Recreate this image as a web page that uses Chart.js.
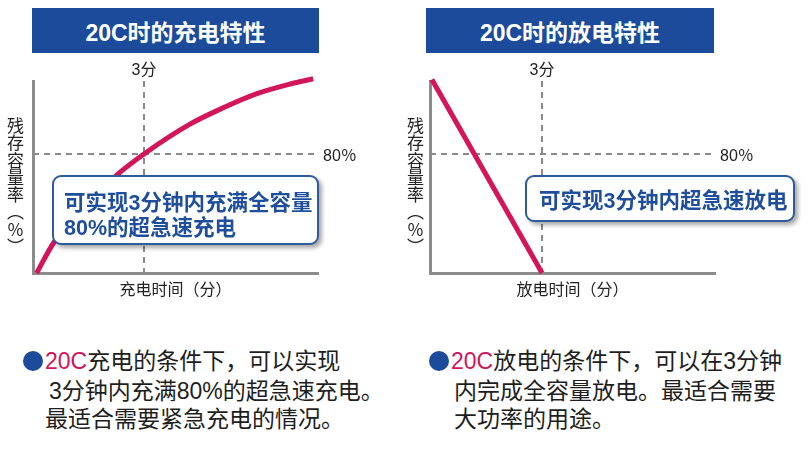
<!DOCTYPE html>
<html>
<head>
<meta charset="utf-8">
<script src="https://cdn.jsdelivr.net/npm/chart.js@4.4.1/dist/chart.umd.min.js"></script>
<style>
  html, body { margin:0; padding:0; background:#fff; }
  body { width:811px; height:450px; position:relative; overflow:hidden;
         font-family:'Liberation Sans','Noto Sans CJK SC',sans-serif; }
  .bar { position:absolute; top:8px; height:45px; background:#1c4b9b; color:#fff;
         font-weight:bold; font-size:23px; line-height:45px; text-align:center;
         padding-top:3px; box-sizing:border-box; white-space:nowrap; }
  .ytitle { position:absolute; top:117px; writing-mode:vertical-rl; text-orientation:upright;
            font-family:'Noto Sans CJK SC',sans-serif; font-size:17px; line-height:17px;
            letter-spacing:0.3px; color:#222; }
  .callout { position:absolute; background:#fff; border:2px solid #2e5b9d; border-radius:9px;
             box-shadow:3px 3px 4px rgba(0,0,0,0.35); color:#1f4f9c; font-weight:bold;
             font-size:21.5px; line-height:25px; box-sizing:border-box; white-space:nowrap; }
  .line { position:absolute; font-size:23px; line-height:29px; color:#1e1e1e; white-space:nowrap; }
  .red { color:#d0145a; }
  .dot { display:inline-block; width:20px; height:20px; border-radius:50%; background:#1c4b9b;
         vertical-align:middle; margin-right:2px; position:relative; top:-2px; }
  canvas { position:absolute; top:0; }
</style>
</head>
<body>
<div class="bar" style="left:32px;width:287px;">20C时的充电特性</div>
<div class="bar" style="left:426px;width:288px;">20C时的放电特性</div>

<canvas id="c1" width="400" height="310" style="left:0;"></canvas>
<canvas id="c2" width="411" height="310" style="left:400px;"></canvas>

<div class="ytitle" style="left:7px;">残存容量率（％）</div>
<div class="ytitle" style="left:407px;">残存容量率（％）</div>

<div class="callout" style="left:52px;top:175px;width:267px;height:70px;padding:14px 0 0 10px;">可实现3分钟内充满全容量<br>80%的超急速充电</div>
<div class="callout" style="left:525px;top:175px;width:270px;height:47px;padding:12px 0 0 12px;">可实现3分钟内超急速放电</div>

<div class="line" style="left:23px;top:347px;"><span class="dot"></span><span class="red">20C</span>充电的条件下，可以实现</div>
<div class="line" style="left:49px;top:377px;">3分钟内充满80%的超急速充电。</div>
<div class="line" style="left:45px;top:405px;">最适合需要紧急充电的情况。</div>

<div class="line" style="left:429px;top:347px;"><span class="dot"></span><span class="red">20C</span>放电的条件下，可以在3分钟</div>
<div class="line" style="left:454px;top:377px;">内完成全容量放电。最适合需要</div>
<div class="line" style="left:454px;top:405px;">大功率的用途。</div>

<script>
// ---- data ----
const chargeTime   = [0.1, 0.55, 1.4, 2.27, 3.0, 4.24, 5.14, 6.05, 6.95, 7.57];
const chargeLevel  = [0,   20,   45,  66,   80,  100,  111,  120.5, 127, 130.5];
const dischargeTime  = [0.05, 3.0];
const dischargeLevel = [130, 0];
const markerTime  = [3];
const markerLevel = [80];
const timeTickLabels  = ['3分'];
const levelTickLabels = ['80％'];

const RED = '#d3155a';
const GRAY = '#8c8c8c';
const DASH = '#8a8a8a';
const FONT = "'Liberation Sans','Noto Sans CJK SC',sans-serif";

function makeChart(id, xs, ys, cfg) {
  return new Chart(document.getElementById(id), {
    type: 'line',
    data: {
      datasets: [{
        data: xs.map((x, i) => ({ x: x, y: ys[i] })),
        borderColor: RED, borderWidth: 5, pointRadius: 0,
        cubicInterpolationMode: 'monotone', clip: false, borderCapStyle: 'butt'
      }]
    },
    options: {
      responsive: false, animation: false, events: [],
      layout: { padding: 0 },
      plugins: { legend: { display: false }, tooltip: { enabled: false } },
      scales: {
        x: {
          type: 'linear', position: 'bottom', min: 0, max: cfg.xMax,
          ticks: { display: false }, grid: { display: false },
          border: { color: GRAY, width: 3 },
          title: { display: true, text: cfg.xTitle, color: '#222',
                   font: { size: 16, family: FONT }, padding: { top: 0, bottom: 10 } },
          afterFit: s => { s.height = 37; }
        },
        xTop: {
          type: 'linear', position: 'top', min: 0, max: cfg.xMax,
          afterBuildTicks: s => { s.ticks = markerTime.map(v => ({ value: v })); },
          ticks: { callback: (v, i) => timeTickLabels[i], color: '#222', padding: 1,
                   font: { size: 16, family: FONT }, maxRotation: 0, autoSkip: false },
          grid: { drawTicks: false, color: DASH, lineWidth: 2 },
          border: { display: false, dash: [6, 5] },
          afterFit: s => { s.height = 81; }
        },
        y: {
          type: 'linear', position: 'left', min: 0, max: 129,
          ticks: { display: false }, grid: { display: false },
          border: { color: GRAY, width: 3 },
          afterFit: s => { s.width = cfg.leftW; }
        },
        yRight: {
          type: 'linear', position: 'right', min: 0, max: 129,
          afterBuildTicks: s => { s.ticks = markerLevel.map(v => ({ value: v })); },
          ticks: { callback: (v, i) => levelTickLabels[i], color: '#222', padding: 5,
                   labelOffset: 3, font: { size: 16, family: FONT }, autoSkip: false },
          grid: { drawTicks: false, color: DASH, lineWidth: 2 },
          border: { display: false, dash: [6, 5] },
          afterFit: s => { s.width = cfg.rightW; }
        }
      }
    }
  });
}

makeChart('c1', chargeTime, chargeLevel, { xMax: 7.7, xTitle: '充电时间（分）', leftW: 33, rightW: 82 });
makeChart('c2', dischargeTime, dischargeLevel, { xMax: 7.63, xTitle: '放电时间（分）', leftW: 30, rightW: 96 });
</script>
</body>
</html>
